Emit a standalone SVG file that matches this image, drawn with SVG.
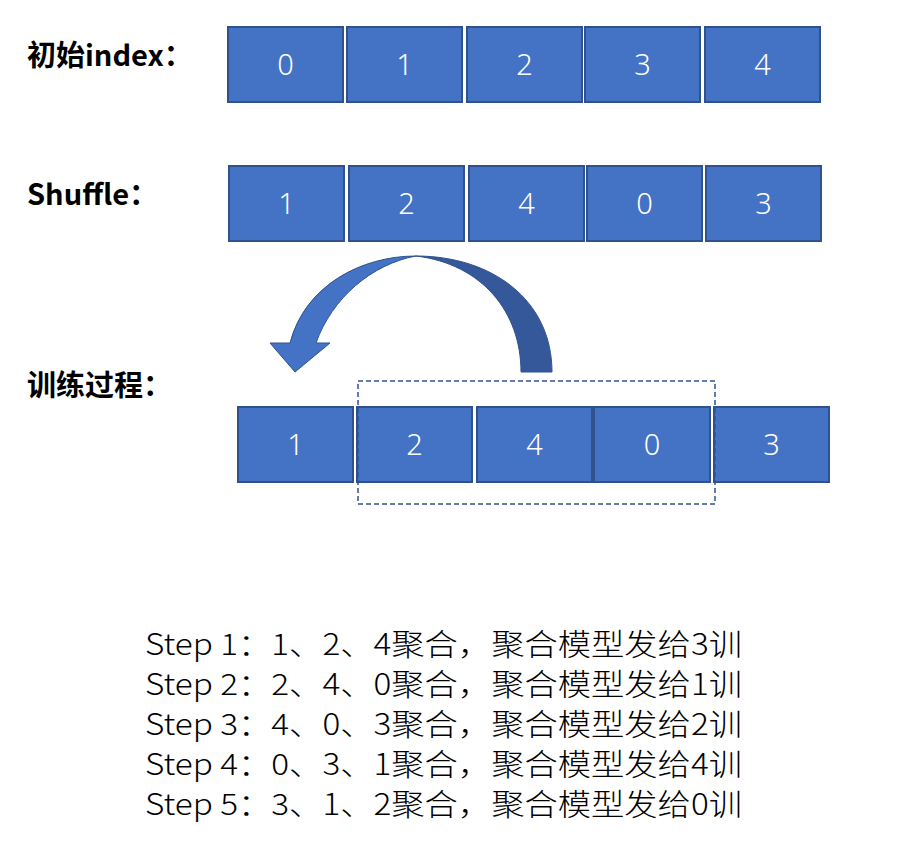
<svg xmlns="http://www.w3.org/2000/svg" width="900" height="865" viewBox="0 0 900 865">
<style>
.box{fill:#4472C4;stroke:#2F528F;stroke-width:2}
.num{font-family:"Noto Sans","Noto Sans CJK SC",sans-serif;font-size:29px;font-weight:300;fill:#FFFFFF;text-anchor:middle}
.lbl{font-family:"Noto Sans CJK SC","Noto Sans",sans-serif;font-size:29px;font-weight:bold;fill:#000000}
.step{font-family:"Noto Sans CJK SC","Noto Sans",sans-serif;font-size:30px;font-weight:300;fill:#000000}
</style>
<rect width="900" height="865" fill="#FFFFFF"/>
<g id="label-init"><text class="lbl" x="27" y="66">初始index：</text></g>
<g id="label-shuffle"><text class="lbl" x="27" y="205">Shuffle：</text></g>
<g id="label-train"><text class="lbl" x="27" y="396">训练过程：</text></g>

<g id="row1">
<g id="r1-0"><rect class="box" x="228" y="27" width="115" height="75"/><text class="num" x="285.5" y="75">0</text></g>
<g id="r1-1"><rect class="box" x="347" y="27" width="115" height="75"/><text class="num" x="404.5" y="75">1</text></g>
<g id="r1-2"><rect class="box" x="467" y="27" width="115" height="75"/><text class="num" x="524.5" y="75">2</text></g>
<g id="r1-3"><rect class="box" x="585" y="27" width="115" height="75"/><text class="num" x="642.5" y="75">3</text></g>
<g id="r1-4"><rect class="box" x="705" y="27" width="115" height="75"/><text class="num" x="762.5" y="75">4</text></g>
</g>

<g id="row2">
<g id="r2-0"><rect class="box" x="229" y="166" width="115" height="75"/><text class="num" x="286.5" y="214">1</text></g>
<g id="r2-1"><rect class="box" x="349" y="166" width="115" height="75"/><text class="num" x="406.5" y="214">2</text></g>
<g id="r2-2"><rect class="box" x="469" y="166" width="115" height="75"/><text class="num" x="526.5" y="214">4</text></g>
<g id="r2-3"><rect class="box" x="587" y="166" width="115" height="75"/><text class="num" x="644.5" y="214">0</text></g>
<g id="r2-4"><rect class="box" x="706" y="166" width="115" height="75"/><text class="num" x="763.5" y="214">3</text></g>
</g>

<g id="row3">
<g id="r3-0"><rect class="box" x="238" y="407" width="115" height="75"/><text class="num" x="295.5" y="455">1</text></g>
<g id="r3-1"><rect class="box" x="357" y="407" width="115" height="75"/><text class="num" x="414.5" y="455">2</text></g>
<g id="r3-2"><rect class="box" x="477" y="407" width="115" height="75"/><text class="num" x="534.5" y="455">4</text></g>
<g id="r3-3"><rect class="box" x="594" y="407" width="116" height="75"/><text class="num" x="652" y="455">0</text></g>
<g id="r3-4"><rect class="box" x="714" y="407" width="115" height="75"/><text class="num" x="771.5" y="455">3</text></g>
</g>

<g id="window">
<rect x="358" y="381" width="357" height="123" fill="none" stroke="#2F528F" stroke-width="1.5" stroke-dasharray="5,3"/>
</g>

<g id="connectors">
<path d="M416,256 C492,256 552,300 552,372 L521,372 C521,312 482,264 416,256 Z" fill="#34589A" stroke="#2F528F" stroke-width="1"/>
<path d="M416,256 C362,256 305,285 290,343 L270,343 L295,372 L330,343 L316,343 C332,298 372,264 416,256 Z" fill="#4472C4" stroke="#2F528F" stroke-width="1"/>
</g>

<g id="steps">
<text class="step" x="145" y="655" textLength="597" lengthAdjust="spacingAndGlyphs">Step 1：1、2、4聚合，聚合模型发给3训</text>
<text class="step" x="145" y="695" textLength="597" lengthAdjust="spacingAndGlyphs">Step 2：2、4、0聚合，聚合模型发给1训</text>
<text class="step" x="145" y="735" textLength="597" lengthAdjust="spacingAndGlyphs">Step 3：4、0、3聚合，聚合模型发给2训</text>
<text class="step" x="145" y="775" textLength="597" lengthAdjust="spacingAndGlyphs">Step 4：0、3、1聚合，聚合模型发给4训</text>
<text class="step" x="145" y="815" textLength="597" lengthAdjust="spacingAndGlyphs">Step 5：3、1、2聚合，聚合模型发给0训</text>
</g>
</svg>
